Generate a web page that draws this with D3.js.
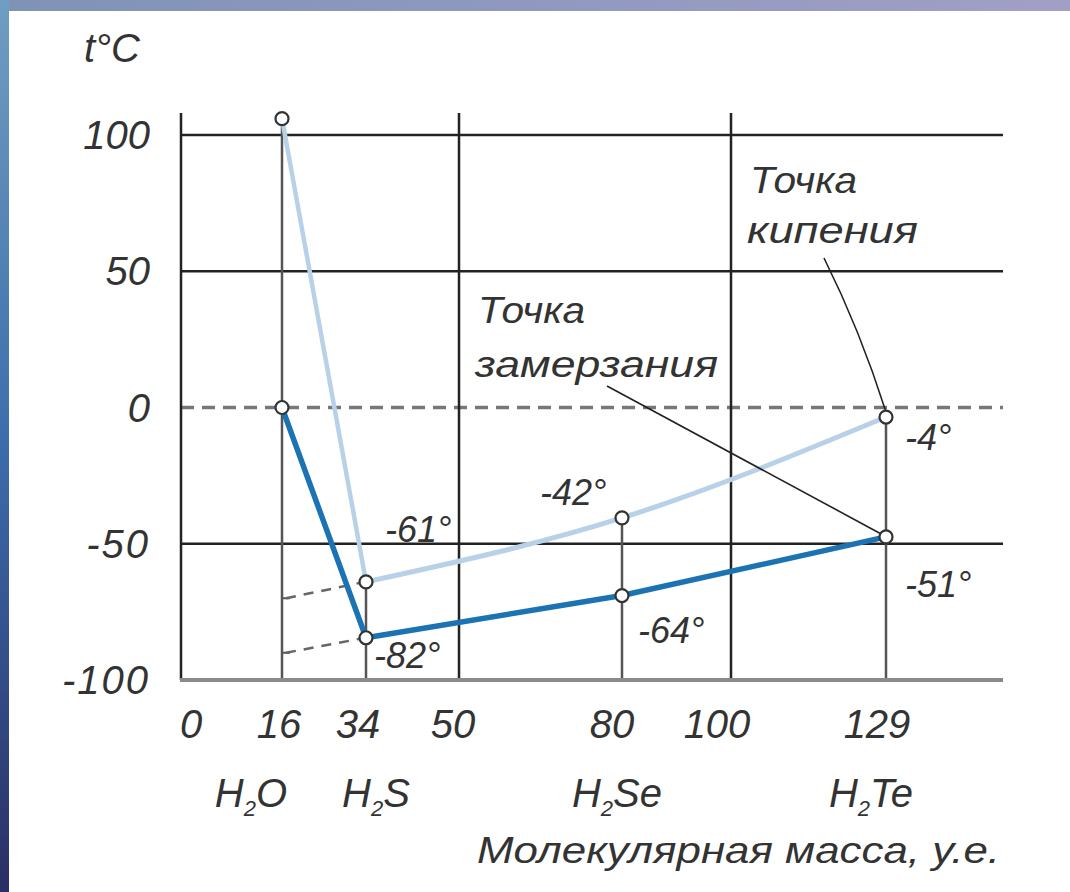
<!DOCTYPE html>
<html><head><meta charset="utf-8">
<script src="https://cdn.jsdelivr.net/npm/d3@7"></script>
<style>body{margin:0;background:#fff}svg{display:block}text{font-family:"Liberation Sans",Arial,sans-serif;font-style:italic;fill:#333}</style>
</head><body><svg id="c" width="1070" height="892"></svg>
<script>
// ---- data ----
const compounds = ["H2O", "H2S", "H2Se", "H2Te"];
const masses = [16, 34, 80, 129];
const boilingPoints = [106, -64, -40.5, -3.5];      // positions as drawn
const freezingPoints = [0, -84.5, -69, -47.5];       // positions as drawn
const boilLabels = [null, "-61°", "-42°", "-4°"];
const freezeLabels = [null, "-82°", "-64°", "-51°"];
const extrapBoilH2O = -70;
const extrapFreezeH2O = -90;
const xTicks = [0, 16, 34, 50, 80, 100, 129];
const yTicks = [100, 50, 0, -50, -100];
const yAxisTitle = "t°C";
const xAxisTitle = "Молекулярная масса, у.е.";
const boilNote = ["Точка", "кипения"];
const freezeNote = ["Точка", "замерзания"];

const svg = d3.select("#c");
// background frame
const defs = svg.append("defs");
const gl = defs.append("linearGradient").attr("id","gl").attr("x1",0).attr("y1",0).attr("x2",0).attr("y2",1);
gl.append("stop").attr("offset","0").attr("stop-color","#6f9ec2");
gl.append("stop").attr("offset","0.5").attr("stop-color","#3d6cab");
gl.append("stop").attr("offset","1").attr("stop-color","#2a2f66");
const gt = defs.append("linearGradient").attr("id","gt").attr("x1",0).attr("y1",0).attr("x2",1).attr("y2",0);
gt.append("stop").attr("offset","0").attr("stop-color","#7f93b5");
gt.append("stop").attr("offset","1").attr("stop-color","#a29fc6");
svg.append("rect").attr("width",1070).attr("height",11).attr("fill","url(#gt)");
svg.append("rect").attr("width",9).attr("height",892).attr("fill","url(#gl)");
svg.append("rect").attr("x",9).attr("y",11).attr("width",1061).attr("height",881).attr("fill","#fff");

// scales
const x = d3.scaleLinear().domain([0,16,34,50,80,100,129,150]).range([181,282,366,459,622,731,886,1003]);
const y = d3.scaleLinear().domain([-100,100]).range([680,135]);
const yTop = 113;

const g = svg.append("g");
// horizontal grid
[100,50,-50].forEach(v=>{
  g.append("line").attr("x1",x(0)).attr("x2",x(150)).attr("y1",y(v)).attr("y2",y(v)).attr("stroke","#222").attr("stroke-width",2.5);
});
g.append("line").attr("x1",x(0)).attr("x2",x(150)).attr("y1",y(0)).attr("y2",y(0))
  .attr("stroke","#777").attr("stroke-width",3.5).attr("stroke-dasharray","13,8");
// vertical black grid lines
[0,50,100].forEach(v=>{
  g.append("line").attr("x1",x(v)).attr("x2",x(v)).attr("y1",yTop).attr("y2",y(-100)).attr("stroke","#222").attr("stroke-width",2.5);
});
// vertical drop lines from boiling points
masses.forEach((m,i)=>{
  g.append("line").attr("x1",x(m)).attr("x2",x(m)).attr("y1",y(boilingPoints[i])).attr("y2",y(-100))
    .attr("stroke","#555").attr("stroke-width",2.5);
});
// bottom axis
g.append("line").attr("x1",x(0)-1).attr("x2",x(150)).attr("y1",y(-100)).attr("y2",y(-100)).attr("stroke","#8a8a8a").attr("stroke-width",4);

// extrapolation dashed lines
[[extrapBoilH2O, boilingPoints[1]],[extrapFreezeH2O, freezingPoints[1]]].forEach(([a,b])=>{
  g.append("line").attr("x1",x(16)).attr("x2",x(16)+8).attr("y1",y(a)).attr("y2",y(a)).attr("stroke","#555").attr("stroke-width",2);
  g.append("line").attr("x1",x(16)+4).attr("y1",y(a)).attr("x2",x(34)-6).attr("y2",y(b)+1)
    .attr("stroke","#666").attr("stroke-width",2.5).attr("stroke-dasharray","10,8");
});

// series lines
const pts = (arr)=>masses.map((m,i)=>[x(m), y(arr[i])]);
const bp = pts(boilingPoints), fp = pts(freezingPoints);
const lin = d3.line();
const curve = d3.line().curve(d3.curveMonotoneX);
g.append("path").attr("d",lin(bp.slice(0,2))).attr("fill","none").attr("stroke","#b9d1e8").attr("stroke-width",4.5);
g.append("path").attr("d",curve(bp.slice(1))).attr("fill","none").attr("stroke","#b9d1e8").attr("stroke-width",5);
g.append("path").attr("d",lin(fp)).attr("fill","none").attr("stroke","#1b73b3").attr("stroke-width",5.5).attr("stroke-linejoin","round");

// leaders
g.append("path").attr("d",`M824,258 Q860,330 ${x(129)},${y(boilingPoints[3])-5}`).attr("fill","none").attr("stroke","#222").attr("stroke-width",1.6);
g.append("line").attr("x1",607).attr("y1",386).attr("x2",x(129)-3).attr("y2",y(freezingPoints[3])-2).attr("stroke","#222").attr("stroke-width",1.6);

// markers
[...bp, ...fp].forEach(p=>{
  g.append("circle").attr("cx",p[0]).attr("cy",p[1]).attr("r",6.5).attr("fill","#fff").attr("stroke","#333").attr("stroke-width",2.2);
});

// y tick labels
yTicks.forEach(v=>{
  g.append("text").attr("x",150).attr("y",y(v)+14).attr("text-anchor","end").attr("font-size",40)
    .text(v<0 ? "-"+Math.abs(v) : v).attr("letter-spacing", v<0 ? 2 : 0);
});
// x tick labels
const xdx = {0:10,16:-3,34:-8,50:-6,80:-10,100:-14,129:-9};
xTicks.forEach(v=>{
  g.append("text").attr("x",x(v)+xdx[v]).attr("y",738).attr("text-anchor","middle").attr("font-size",40).text(v);
});
// compound labels
const fcx = [251,376,617,871];
compounds.forEach((c,i)=>{
  const t = g.append("text").attr("x",fcx[i]).attr("y",807).attr("text-anchor","middle").attr("font-size",40);
  t.append("tspan").text(c[0]);
  t.append("tspan").text(c[1]).attr("font-size",22).attr("dy",9);
  t.append("tspan").text(c.slice(2)).attr("dy",-9);
});
// titles
g.append("text").attr("x",84).attr("y",62).attr("font-size",40).text(yAxisTitle);
g.append("text").attr("x",477).attr("y",863).attr("font-size",36).attr("textLength",523).attr("lengthAdjust","spacingAndGlyphs").text(xAxisTitle);

// notes
g.append("text").attr("x",750).attr("y",193).attr("font-size",36).attr("textLength",107).attr("lengthAdjust","spacingAndGlyphs").text(boilNote[0]);
g.append("text").attr("x",747).attr("y",243).attr("font-size",36).attr("textLength",171).attr("lengthAdjust","spacingAndGlyphs").text(boilNote[1]);
g.append("text").attr("x",478).attr("y",323).attr("font-size",36).attr("textLength",107).attr("lengthAdjust","spacingAndGlyphs").text(freezeNote[0]);
g.append("text").attr("x",475).attr("y",377).attr("font-size",36).attr("textLength",243).attr("lengthAdjust","spacingAndGlyphs").text(freezeNote[1]);

// value labels
const bpos = [null,[385,542],[540,505],[905,450]];
const fpos = [null,[374,668],[638,643],[905,597]];
masses.forEach((m,i)=>{
  if(boilLabels[i]) g.append("text").attr("x",bpos[i][0]).attr("y",bpos[i][1]).attr("font-size",36).text(boilLabels[i]);
  if(freezeLabels[i]) g.append("text").attr("x",fpos[i][0]).attr("y",fpos[i][1]).attr("font-size",36).text(freezeLabels[i]);
});
</script></body></html>
